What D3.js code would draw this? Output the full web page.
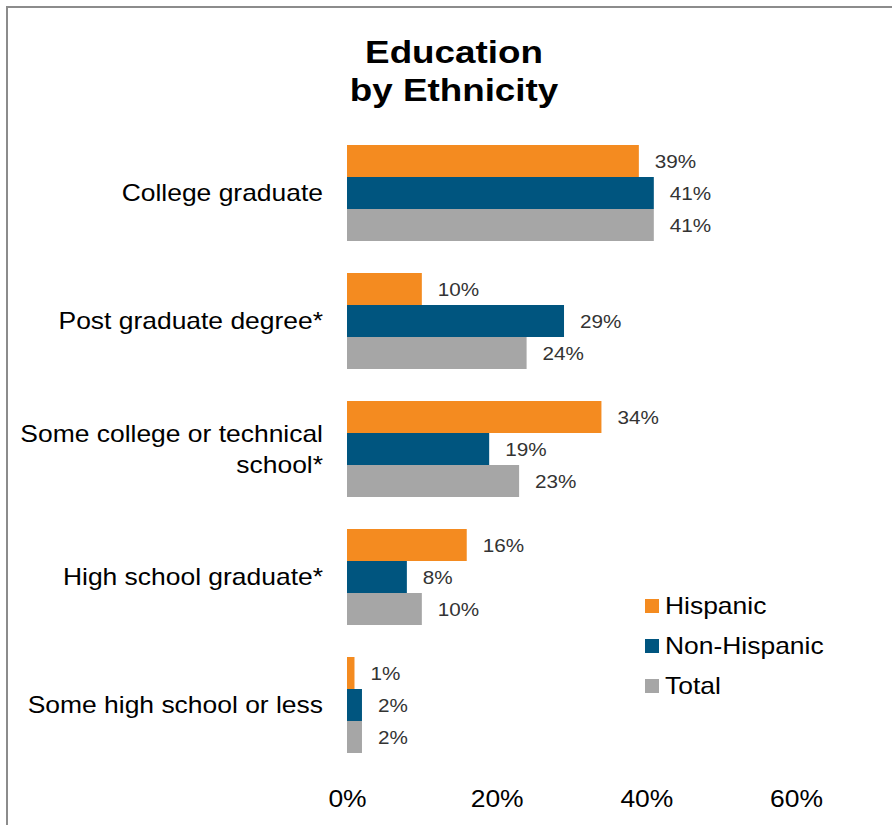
<!DOCTYPE html>
<html>
<head>
<meta charset="utf-8">
<script src="https://cdn.jsdelivr.net/npm/d3@7"></script>
<style>
    body { margin: 0; background: #fff; }
    svg { display: block; font-family: "Liberation Sans", Arial, sans-serif; }
</style>
</head>
<body>
<div id="chart-div"></div>
<script>
// ----------------------- education by ethnicity

var categories = ["College graduate", "Post graduate degree*",
    "Some college or technical\nschool*", "High school graduate*",
    "Some high school or less"];
var seriesNames = ["Hispanic", "Non-Hispanic", "Total"];
var hispanic = [39, 10, 34, 16, 1];
var nonHispanic = [41, 29, 19, 8, 2];
var total = [41, 24, 23, 10, 2];
var tickValues = [0, 20, 40, 60];

function drawChart() {
    var svgWidth = 892;
    var svgHeight = 825;
    var sx = 1.15; // the original text is a bit wider than it is tall

    var colors = d3.scaleOrdinal()
        .domain(seriesNames)
        .range(["#F48B20", "#00557F", "#A6A6A6"]);

    var svg = d3.select('#chart-div').append("svg")
        .attr('width', svgWidth)
        .attr('height', svgHeight);

    // frame lines (top + left only)
    svg.append("path")
        .attr("d", "M7,825V7H892")
        .attr("fill", "none")
        .attr("stroke", "#8c8c8c")
        .attr("stroke-width", 2);

    var x = d3.scaleLinear()
        .domain([0, 60])
        .range([347, 796]);
    var y = d3.scaleBand()
        .domain(categories)
        .range([129, 769])
        .paddingInner(0.25)
        .paddingOuter(0.125);
    var ySub = d3.scaleBand()
        .domain(seriesNames)
        .range([0, y.bandwidth()]);

    var rows = categories.map(function(c, i) {
        return {cat: c, values: [
            {key: seriesNames[0], value: hispanic[i]},
            {key: seriesNames[1], value: nonHispanic[i]},
            {key: seriesNames[2], value: total[i]}
        ]};
    });

    // title
    svg.append("g")
        .attr("transform", "translate(454, 0)")
        .selectAll("text")
        .data(["Education", "by Ethnicity"])
        .enter()
        .append("text")
        .attr("transform", function(d, i) { return "translate(0," + (63 + i * 38) + ") scale(" + sx + ",1)"; })
        .attr("text-anchor", "middle")
        .style("font-size", "32px")
        .style("font-weight", "bold")
        .attr("fill", "#000")
        .text(function(d) { return d; });

    // category labels
    var catLabels = svg.append("g").selectAll("g")
        .data(categories)
        .enter()
        .append("g")
        .attr("transform", function(d) {
            var lines = d.split("\n");
            var yc = y(d) + y.bandwidth() / 2 - (lines.length - 1) * 31 / 2 + 8;
            return "translate(323," + yc + ")";
        });
    catLabels.selectAll("text")
        .data(function(d) { return d.split("\n"); })
        .enter()
        .append("text")
        .attr("transform", function(d, i) { return "translate(0," + (i * 31) + ") scale(" + sx + ",1)"; })
        .attr("text-anchor", "end")
        .style("font-size", "23px")
        .attr("fill", "#000")
        .text(function(d) { return d; });

    // bars
    var groups = svg.append("g").selectAll("g")
        .data(rows)
        .enter()
        .append("g")
        .attr("transform", function(d) { return "translate(0," + y(d.cat) + ")"; });

    groups.selectAll("rect")
        .data(function(d) { return d.values; })
        .enter()
        .append("rect")
        .attr("x", x(0))
        .attr("y", function(d) { return ySub(d.key); })
        .attr("width", function(d) { return x(d.value) - x(0); })
        .attr("height", ySub.bandwidth())
        .attr("fill", function(d) { return colors(d.key); });

    // value labels
    groups.selectAll("text")
        .data(function(d) { return d.values; })
        .enter()
        .append("text")
        .attr("transform", function(d) {
            return "translate(" + (x(d.value) + 16) + "," + (ySub(d.key) + ySub.bandwidth() / 2 + 7) + ") scale(" + sx + ",1)";
        })
        .style("font-size", "18px")
        .attr("fill", "#333")
        .text(function(d) { return d.value + "%"; });

    // labels on x
    var xAxis = svg.append("g")
        .attr("transform", "translate(0, 785)")
        .call(d3.axisBottom(x).tickValues(tickValues).tickSize(0).tickPadding(6)
            .tickFormat(function(d) { return d + "%"; }));
    xAxis.select(".domain").remove();
    xAxis.selectAll("text")
        .attr("transform", "scale(" + sx + ",1)")
        .style("font-family", "'Liberation Sans', Arial, sans-serif")
        .style("font-size", "23px")
        .attr("fill", "#000");

    // legend
    var legend = svg.append("g").selectAll("g")
        .data(seriesNames)
        .enter()
        .append("g")
        .attr("transform", function(d, i) { return "translate(645," + (606 + i * 40) + ")"; });
    legend.append("rect")
        .attr("x", 0)
        .attr("y", -7)
        .attr("width", 14)
        .attr("height", 14)
        .attr("fill", function(d) { return colors(d); });
    legend.append("text")
        .attr("transform", "translate(20,8) scale(" + sx + ",1)")
        .style("font-size", "23px")
        .attr("fill", "#000")
        .text(function(d) { return d; });
}

drawChart();
</script>
</body>
</html>
